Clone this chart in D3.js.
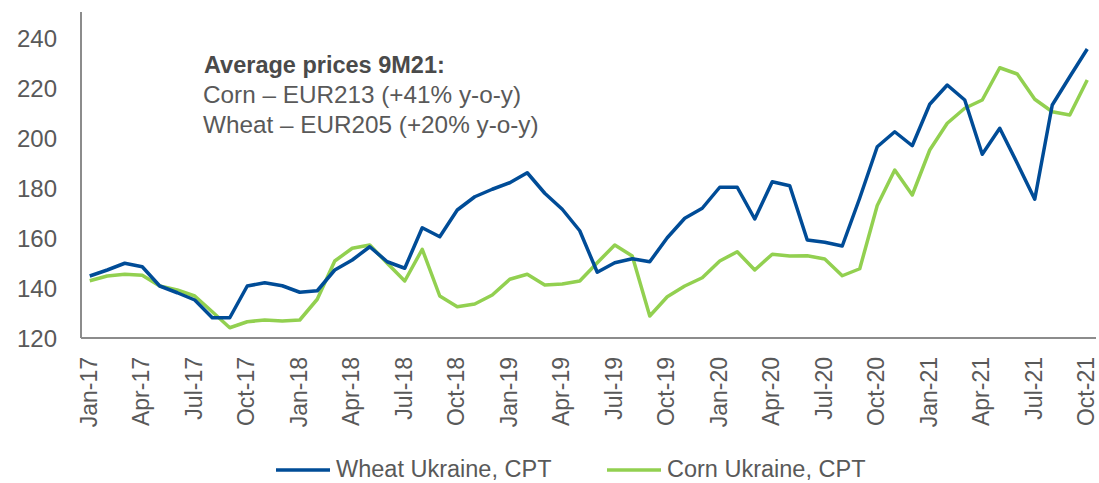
<!DOCTYPE html>
<html><head><meta charset="utf-8">
<script src="https://cdn.jsdelivr.net/npm/d3@7"></script>
<style>body{margin:0;background:#fff;}svg{display:block;font-family:"Liberation Sans",Arial,sans-serif;}</style>
</head><body>
<svg id="c" width="1099" height="483"></svg>
<script>
const months = ["Jan","Feb","Mar","Apr","May","Jun","Jul","Aug","Sep","Oct","Nov","Dec"];
const categories = [];
for (let y = 17; y <= 21; y++) for (let m = 0; m < 12; m++) { if (y === 21 && m > 9) break; categories.push(months[m] + "-" + y); }
const wheat = [144.8,147.2,149.9,148.5,140.8,138.1,135.2,128.1,128.1,140.8,142.1,140.9,
  138.3,138.9,147.2,151.2,156.5,150.5,147.9,164.1,160.5,171.2,176.5,179.5,
  182.1,186.1,177.9,171.5,162.9,146.3,150.1,151.7,150.5,160.1,167.9,171.9,
  180.3,180.3,167.6,182.5,180.9,159.2,158.3,156.8,176.0,196.5,202.5,196.9,
  213.5,221.2,215.2,193.5,203.9,189.9,175.5,213.2,224.5,235.6];
const corn = [142.9,144.8,145.5,145.1,140.8,139.2,136.8,130.5,124.1,126.5,127.2,126.8,
  127.2,135.5,150.8,155.9,157.2,149.9,142.8,155.5,136.8,132.5,133.6,137.2,
  143.5,145.5,141.2,141.6,142.8,150.1,157.2,152.8,128.8,136.5,140.8,144.1,
  150.8,154.5,147.2,153.5,152.8,152.9,151.6,144.9,147.7,173.0,187.2,177.2,
  195.2,205.9,211.9,215.2,228.1,225.6,215.5,210.5,209.2,223.2];
const yTicks = [120,140,160,180,200,220,240];
const seriesNames = ["Wheat Ukraine, CPT","Corn Ukraine, CPT"];
const colors = ["#004c97","#92d050"];
const noteTitle = "Average prices 9M21:";
const noteLines = ["Corn – EUR213 (+41% y-o-y)","Wheat – EUR205 (+20% y-o-y)"];

const svg = d3.select("#c");
const L = 81, R = 1096, T = 38, B = 338;
const x = d3.scalePoint().domain(categories).range([L, R]).padding(0.5);
const y = d3.scaleLinear().domain([120, 240]).range([B, T]);
const txt = "#595959", axisCol = "#8c8c8c";

// y labels
svg.append("g").selectAll("text").data(yTicks).join("text")
  .attr("x", 57).attr("y", d => y(d)).attr("dy", "0.36em")
  .attr("text-anchor", "end").attr("font-size", 24).attr("fill", txt).text(d => d);

// x labels
const xl = categories.filter((d, i) => i % 3 === 0);
svg.append("g").selectAll("text").data(xl).join("text")
  .attr("transform", d => `translate(${x(d)},357) rotate(-90)`)
  .attr("dy", "0.3em").attr("text-anchor", "end")
  .attr("font-size", 23).attr("fill", txt).text(d => d);

// axes lines
svg.append("line").attr("x1", L).attr("x2", L).attr("y1", 12).attr("y2", B)
  .attr("stroke", axisCol).attr("stroke-width", 2);
svg.append("line").attr("x1", L).attr("x2", R).attr("y1", B).attr("y2", B)
  .attr("stroke", axisCol).attr("stroke-width", 2);

const line = d3.line().x((d, i) => x(categories[i])).y(d => y(d));
[corn, wheat].forEach((s, k) => {
  svg.append("path").attr("d", line(s)).attr("fill", "none")
    .attr("stroke", k === 0 ? colors[1] : colors[0]).attr("stroke-width", 3.5)
    .attr("stroke-linejoin", "round");
});

// annotation
svg.append("text").attr("x", 204).attr("y", 73).attr("font-size", 23.5).attr("font-weight", "bold")
  .attr("fill", "#4a4a4a").text(noteTitle);
noteLines.forEach((t, i) => svg.append("text").attr("x", 203).attr("y", 103 + i * 30)
  .attr("font-size", 24.3).attr("fill", txt).text(t));

// legend
const lg = [{x: 276, name: seriesNames[0], c: colors[0]}, {x: 607, name: seriesNames[1], c: colors[1]}];
lg.forEach(d => {
  svg.append("line").attr("x1", d.x).attr("x2", d.x + 54).attr("y1", 470).attr("y2", 470)
    .attr("stroke", d.c).attr("stroke-width", 3.5);
  svg.append("text").attr("x", d.x + 60).attr("y", 477)
    .attr("font-size", 23.5).attr("fill", txt).text(d.name);
});
</script>
</body></html>
